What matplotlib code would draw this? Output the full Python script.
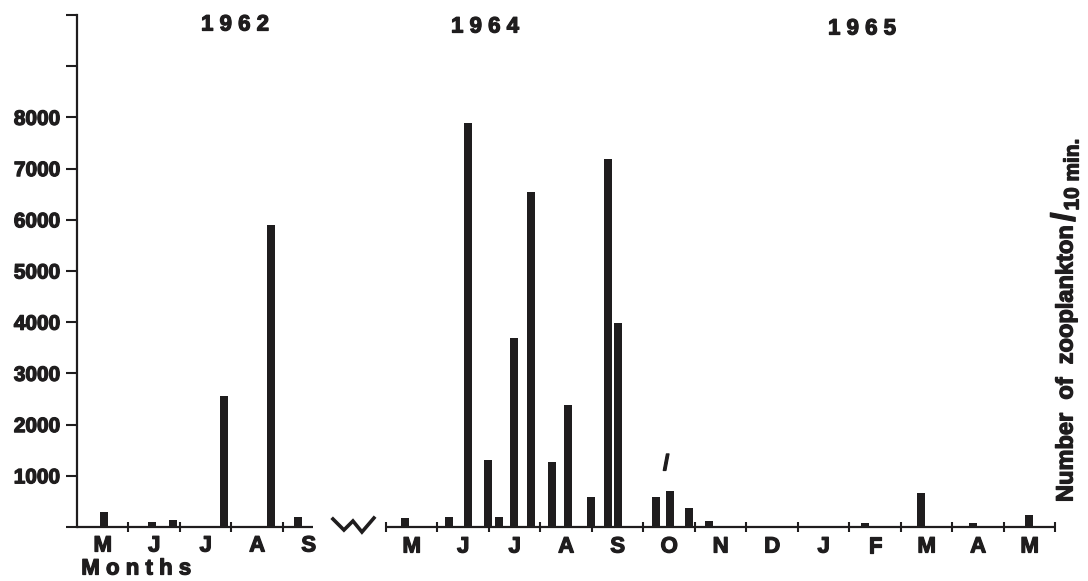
import numpy as np
import matplotlib.pyplot as plt
import matplotlib.transforms as mtransforms
import matplotlib.patheffects as pe

plt.rcParams['font.family'] = ['Liberation Sans', 'DejaVu Sans']
plt.rcParams['font.weight'] = 'bold'

# sampling dates in months from the start of May of each series
# 1962 series (May - Sep)
pos_1962 = [0.52, 1.46, 1.86, 2.85, 3.77, 4.29]
val_1962 = [300, 100, 130, 2560, 5900, 200]

# 1964-65 series, offset from start of May 1964
pos_1964 = [0.37, 1.22, 1.59, 1.98, 2.19, 2.49, 2.82, 3.22, 3.53, 3.98,
            4.31, 4.50, 5.24, 5.51, 5.88, 6.27, 9.30, 10.39, 11.40, 12.49]
val_1964 = [170, 200, 7890, 1310, 200, 3690, 6540, 1270, 2380, 590,
            7190, 3990, 590, 700, 370, 120, 80, 660, 80, 230]

months_1962 = ['M', 'J', 'J', 'A', 'S']
months_1964 = ['M', 'J', 'J', 'A', 'S', 'O', 'N', 'D', 'J', 'F', 'M', 'A', 'M']
years = ['1 9 6 2', '1 9 6 4', '1 9 6 5']
yticks = list(range(0, 10001, 1000))

ink = '#1f1d1e'
heavy = [pe.withStroke(linewidth=0.9, foreground=ink)]
W, H = 1088, 581
fig = plt.figure(figsize=(W / 100, H / 100), dpi=100)


def fx(px):
    return px / W


def fy(py):
    return 1 - py / H


ax = fig.add_axes([fx(77), fy(527), fx(1058) - fx(77), fy(15) - fy(527)])
off2 = 6.0           # where the second series starts on the month axis
end1 = 4.58          # end of the first axis segment
end2 = off2 + len(months_1964)

ax.set_xlim(0, 19.05)
ax.set_ylim(0, 10000)

x2 = np.array(pos_1964) + off2
ax.bar(pos_1962, val_1962, width=0.15, color=ink, align='center')
ax.bar(x2, val_1964, width=0.15, color=ink, align='center')

# axes
for s in ['top', 'right', 'bottom']:
    ax.spines[s].set_visible(False)
ax.spines['left'].set_linewidth(1.6)
ax.spines['left'].set_color(ink)
ax.set_yticks(yticks)
ax.set_yticklabels([str(v) if 1000 <= v <= 8000 else '' for v in yticks],
                   fontsize=15, fontweight='bold', color=ink)
for t in ax.get_yticklabels():
    t.set_path_effects(heavy)
ax.tick_params(axis='y', direction='out', length=8, width=1.5, pad=4, colors=ink)
ax.set_xticks([])

ax.plot([0, end1], [0, 0], color=ink, lw=1.6, clip_on=False, solid_capstyle='butt')
ax.plot([off2, end2], [0, 0], color=ink, lw=1.6, clip_on=False, solid_capstyle='butt')
t1 = np.arange(1, 5)
t2 = np.arange(off2, end2 + 0.5)
ax.plot(t1, np.zeros_like(t1), ls='none', marker='|', ms=7, mew=1.5, color=ink, clip_on=False)
ax.plot(t2, np.zeros_like(t2), ls='none', marker='|', ms=7, mew=1.5, color=ink, clip_on=False)

# axis break zigzag, offsets in pixels from the gap start on the baseline
zx = np.array([0, 11, 20, 29, 41])
zy = np.array([8, -3, 6, -5, 9])
base = ax.transData.transform((4.97, 0))
ax.add_line(plt.Line2D(base[0] + zx, base[1] + zy, transform=None, color=ink,
                       lw=2.6, solid_joinstyle='miter', clip_on=False))

# month labels
lbl_tr = mtransforms.blended_transform_factory(ax.transData, fig.transFigure)
for i, m in enumerate(months_1962):
    ax.text(i + 0.5, fy(546), m, transform=lbl_tr, ha='center', va='center',
            fontsize=16, fontweight='bold', color=ink, path_effects=heavy)
for i, m in enumerate(months_1964):
    ax.text(off2 + i + 0.5, fy(547), m, transform=lbl_tr, ha='center', va='center',
            fontsize=16, fontweight='bold', color=ink, path_effects=heavy)

fig.text(fx(136), fy(569), 'M o n t h s', ha='center', va='center',
         fontsize=16, fontweight='bold', color=ink, path_effects=heavy)

# year headings
for yr, px, py in zip(years, [235, 485, 862], [25, 27, 29]):
    fig.text(fx(px), fy(py), yr, ha='center', va='center',
             fontsize=16, fontweight='bold', color=ink, path_effects=heavy)

# stray mark near October
ax.text(11.44, 1220, '/', ha='center', va='center', fontsize=16,
        fontweight='bold', color=ink, path_effects=heavy)

# right-hand axis title, pieces chained one after the other
lab1 = fig.text(fx(1066), fy(502), 'Number  of  zooplankton', rotation=90,
                ha='center', va='bottom', fontsize=17, fontweight='bold',
                color=ink, path_effects=heavy)
fig.canvas.draw()
top1 = lab1.get_window_extent().y1
lab2 = fig.text(fx(1066), (top1 + 3) / H, '/', rotation=90, ha='center',
                va='bottom', fontsize=24, fontweight='bold', color=ink,
                path_effects=heavy)
fig.canvas.draw()
top2 = lab2.get_window_extent().y1
fig.text(fx(1073), (top2 + 2) / H, '10 min.', rotation=90, ha='center',
         va='bottom', fontsize=15, fontweight='bold', color=ink,
         path_effects=heavy)

fig.savefig('out.png', dpi=100, facecolor='white')
